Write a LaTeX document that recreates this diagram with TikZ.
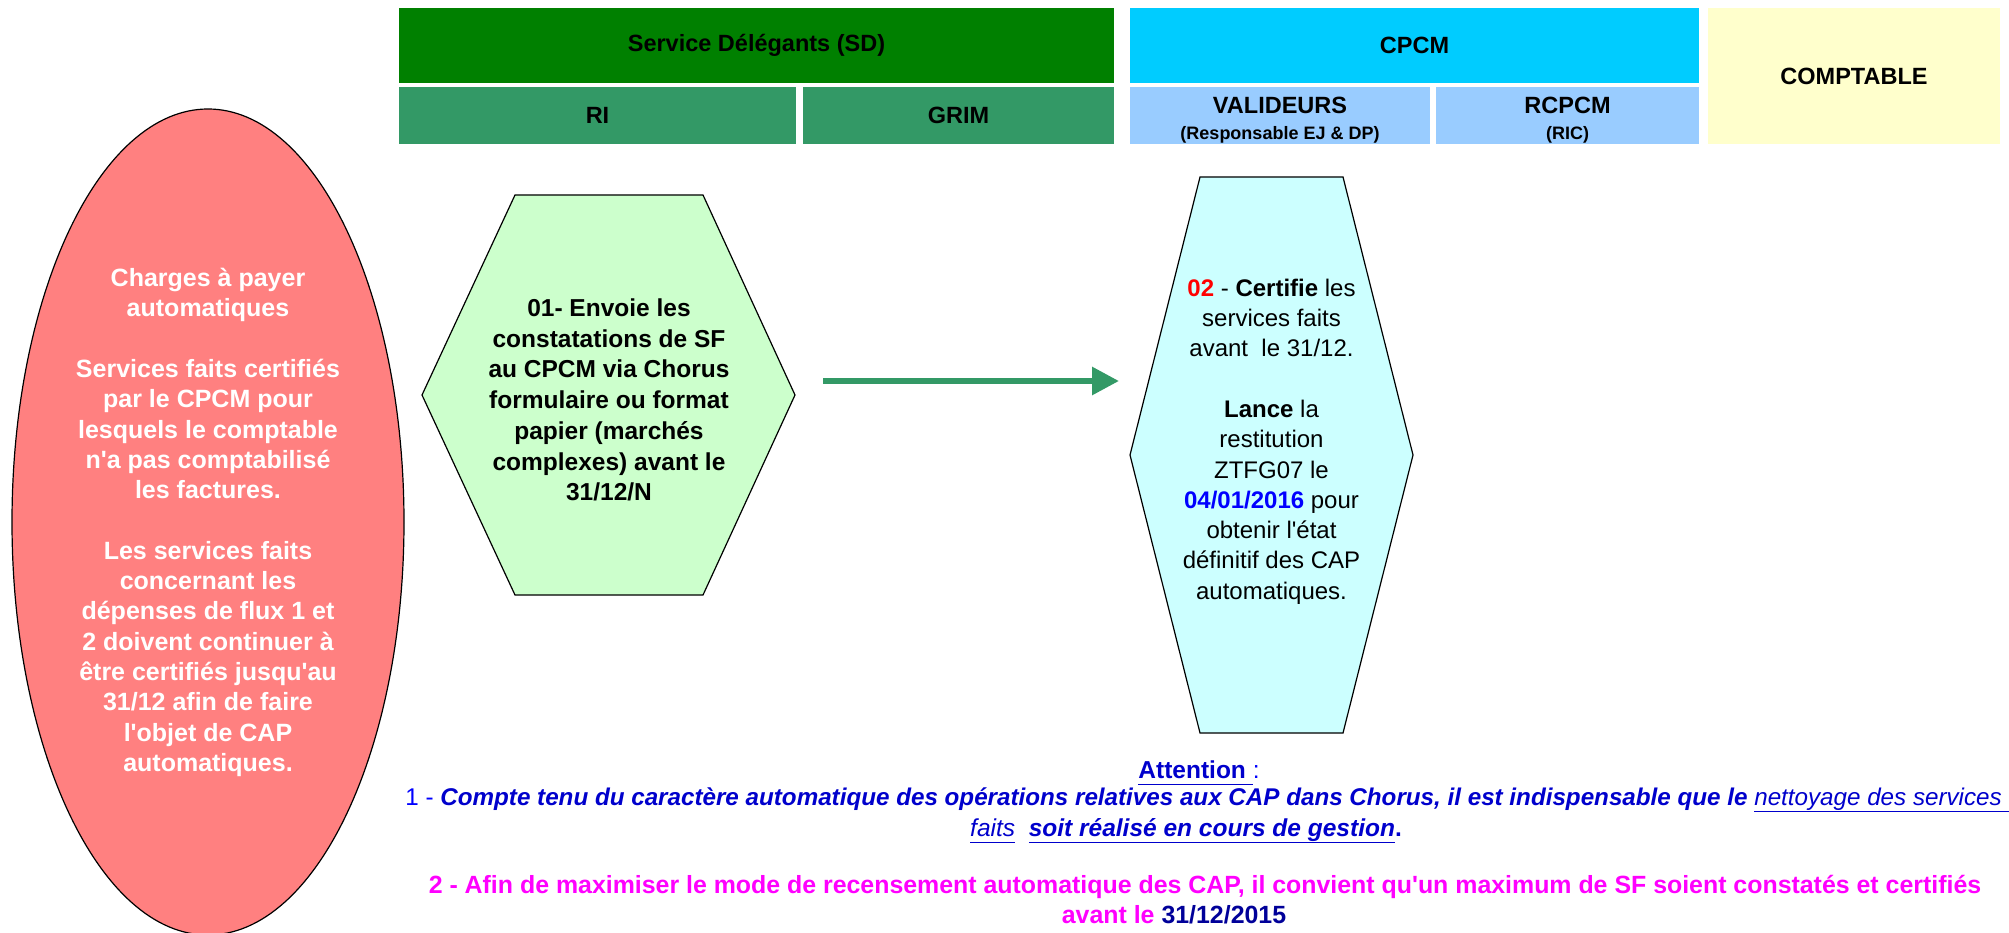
\documentclass[tikz,border=0pt]{standalone}
\usepackage{fontspec}
\setmainfont{Liberation Sans}[Ligatures=TeXOff]
\usetikzlibrary{arrows.meta,shapes.geometric}

\definecolor{sdgreen}{HTML}{008000}
\definecolor{subgreen}{HTML}{339966}
\definecolor{cpcmblue}{HTML}{00CCFF}
\definecolor{subblue}{HTML}{99CCFF}
\definecolor{comptyellow}{HTML}{FFFFCC}
\definecolor{hexgreen}{HTML}{CCFFCC}
\definecolor{hexcyan}{HTML}{CCFFFF}
\definecolor{capred}{HTML}{FF8080}
\definecolor{noteblue}{HTML}{0000FF}
\definecolor{notedark}{HTML}{0000CC}
\definecolor{notenavy}{HTML}{000099}
\definecolor{notemagenta}{HTML}{FF00FF}

\newcommand\fsz[2]{\fontsize{#1}{#2}\selectfont}
\newcommand\uln[1]{\underline{\vphantom{gy}#1}}

\begin{document}
\begin{tikzpicture}[x=1pt,y=-1pt,
  box/.style={inner sep=0pt, outer sep=0pt, draw=none},
  hdrtext/.style={inner sep=0pt, font=\fsz{23.5}{28}\bfseries, text=black},
  subtext/.style={inner sep=0pt, font=\fsz{18}{22}\bfseries, text=black},
  hexline/.style={draw=black, line width=1.2pt, line join=miter},
  body/.style={align=center, inner sep=0pt},
  flow/.style={draw=subgreen, line width=6pt, -{Triangle[length=27pt,width=27pt]}},
  note/.style={inner sep=0pt, anchor=base},
]
\useasboundingbox (0,0) rectangle (2009,933);

% ---- column headers ----
\node[box, fill=sdgreen, minimum width=715, minimum height=75] (sd) at (756.5,45.5) {};
\node[hdrtext] (sdt) at (sd.center) {Service Délégants (SD)};
\node[box, fill=subgreen, minimum width=397, minimum height=57] (ri) at (597.5,115.5) {};
\node[hdrtext] (rit) at (ri.center) {RI};
\node[box, fill=subgreen, minimum width=311, minimum height=57] (grim) at (958.5,115.5) {};
\node[hdrtext] (grimt) at (grim.center) {GRIM};

\node[box, fill=cpcmblue, minimum width=569, minimum height=75] (cpcm) at (1414.5,45.5) {};
\node[hdrtext] (cpcmt) at (cpcm.center) {CPCM};
\node[box, fill=subblue, minimum width=300, minimum height=57] (val) at (1280,115.5) {};
\node[hdrtext] (valt) at (1280,105) {VALIDEURS};
\node[subtext] (vals) at (1280,135) {(Responsable EJ \& DP)};
\node[box, fill=subblue, minimum width=263, minimum height=57] (rc) at (1567.5,115.5) {};
\node[hdrtext] (rct) at (1567.5,105) {RCPCM};
\node[subtext] (rcs) at (1567.5,135) {(RIC)};

\node[box, fill=comptyellow, minimum width=292, minimum height=136] (cpt) at (1854,76) {};
\node[hdrtext] (cptt) at (cpt.center) {COMPTABLE};

% ---- automatic accrued charges (ellipse) ----
\draw[fill=capred, draw=black, line width=1.2pt] (208,522) ellipse [x radius=196, y radius=413];
\node[body, text=white, font=\fsz{25}{30.3}\bfseries] (cap) at (208,522.5) {%
Charges à payer\\
automatiques\\[30.3pt]
Services faits certifiés\\
par le CPCM pour\\
lesquels le comptable\\
n'a pas comptabilisé\\
les factures.\\[30.3pt]
Les services faits\\
concernant les\\
dépenses de flux 1 et\\
2 doivent continuer à\\
être certifiés jusqu'au\\
31/12 afin de faire\\
l'objet de CAP\\
automatiques.};

% ---- step 01 ----
\draw[hexline, fill=hexgreen] (515,195) -- (703,195) -- (795,395) -- (703,595)
  -- (515,595) -- (422,395) -- cycle;
\node[body, font=\fsz{24.5}{30.7}\bfseries] (s01) at (609,400) {%
01- Envoie les\\
constatations de SF\\
au CPCM via Chorus\\
formulaire ou format\\
papier (marchés\\
complexes) avant le\\
31/12/N};

% ---- step 02 ----
\draw[hexline, fill=hexcyan] (1200,177) -- (1343,177) -- (1413,455) -- (1343,733)
  -- (1200,733) -- (1130,455) -- cycle;
\node[body, font=\fsz{24}{30.3}] (s02) at (1271.5,441.5) {%
{\color{red}\bfseries 02} - {\bfseries Certifie} les\\
services faits\\
avant\ \ le 31/12.\\[30.3pt]
{\bfseries Lance} la\\
restitution\\
ZTFG07 le\\
{\color{noteblue}\bfseries 04/01/2016} pour\\
obtenir l'état\\
définitif des CAP\\
automatiques.};

% ---- flow from step 01 to step 02 ----
\coordinate (flowA) at (823,381);
\coordinate (flowB) at (1119,381);
\draw[flow] (flowA) -- (flowB);

% ---- notes ----
\node[note, font=\fsz{24.5}{28}] (att) at (1199,778) {%
{\color{notedark}\bfseries\uln{Attention }}{\color{noteblue} :}};
\node[note, font=\fsz{24.2}{28}] (n1) at (1207,805) {%
{\color{noteblue}1 - }{\color{notedark}\bfseries\itshape Compte tenu du caractère automatique des opérations relatives aux CAP dans Chorus, il est indispensable que le }{\color{notedark}\itshape\uln{nettoyage des services }}};
\node[note, font=\fsz{24.5}{28}] (n1b) at (1186,836) {%
{\color{notedark}\itshape\uln{faits}}\ \ {\color{notedark}\bfseries\itshape\uln{soit réalisé en cours de gestion}}{\color{notedark}\bfseries .}};
\node[note, font=\fsz{24.9}{28}\bfseries, text=notemagenta] (n2) at (1205,893) {%
2 - Afin de maximiser le mode de recensement automatique des CAP, il convient qu'un maximum de SF soient constatés et certifiés};
\node[note, font=\fsz{24.9}{28}\bfseries] (n2b) at (1174,923) {%
{\color{notemagenta}avant le }{\color{notenavy}31/12/2015}};
\end{tikzpicture}
\end{document}
